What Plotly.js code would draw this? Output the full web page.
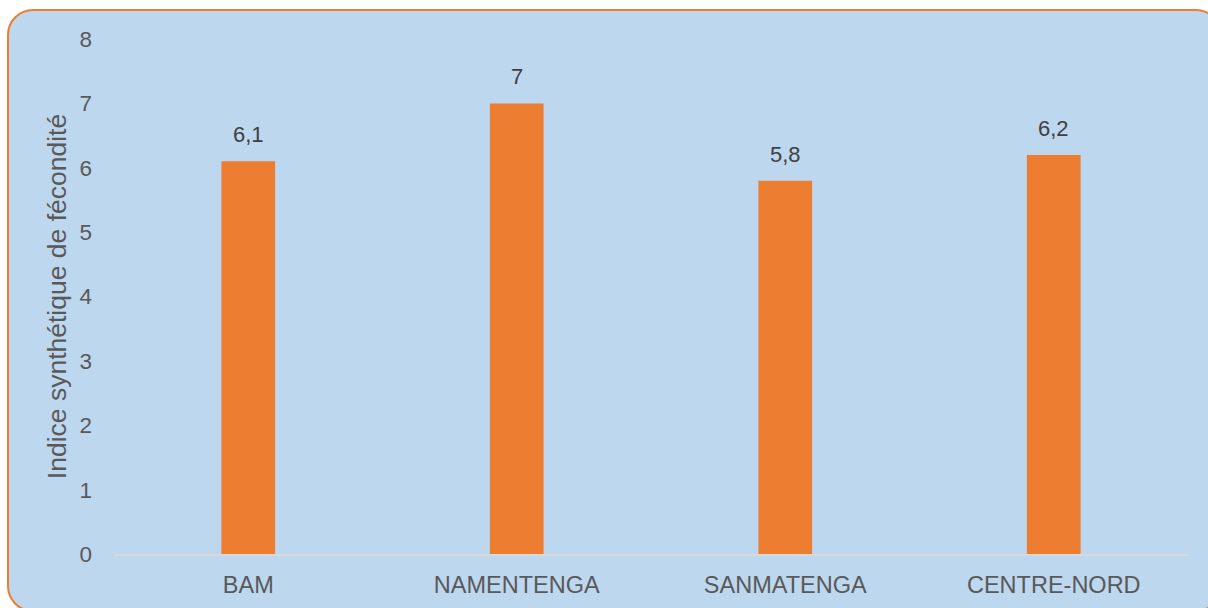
<!DOCTYPE html>
<html>
<head>
<meta charset="utf-8">
<script src="https://cdn.plot.ly/plotly-3.0.1.min.js"></script>
<style>
  html, body { margin: 0; padding: 0; width: 1208px; height: 608px; overflow: hidden; background: #ffffff; }
  #box { position: absolute; left: 7px; top: 9px; width: 1215px; height: 603px; box-sizing: border-box;
         border: 2px solid #ED7D31; border-radius: 26px; background: #BDD7EE; }
  #chart { position: absolute; left: 0; top: 0; width: 1208px; height: 608px; }
</style>
</head>
<body>
<div id="box"></div>
<div id="chart"></div>
<script>
const categories = ['BAM', 'NAMENTENGA', 'SANMATENGA', 'CENTRE-NORD'];
const values = [6.1, 7, 5.8, 6.2];
const yTitle = 'Indice synthétique de fécondité';

const labels = values.map(v => String(v).replace('.', ','));
const FONT = 'Liberation Sans, Arial, sans-serif';

const trace = {
  type: 'bar',
  x: categories,
  y: values,
  marker: { color: '#ED7D31' },
  width: 0.2,
  hoverinfo: 'skip'
};

const annotations = categories.map((c, i) => ({
  x: c,
  y: values[i],
  xref: 'x',
  yref: 'y',
  text: labels[i],
  showarrow: false,
  yanchor: 'bottom',
  yshift: 12,
  font: { family: FONT, size: 22, color: '#404040' }
}));

const layout = {
  width: 1208,
  height: 608,
  margin: { l: 114, r: 20, t: 39, b: 54 },
  paper_bgcolor: 'rgba(0,0,0,0)',
  plot_bgcolor: 'rgba(0,0,0,0)',
  showlegend: false,
  separators: ',.',
  font: { family: FONT, size: 22, color: '#595959' },
  annotations: annotations,
  xaxis: {
    type: 'category',
    showline: true,
    linecolor: '#D9D9D9',
    linewidth: 1.5,
    showgrid: false,
    zeroline: false,
    ticks: '',
    ticklabelstandoff: 9,
    tickfont: { size: 23.5, color: '#595959' }
  },
  yaxis: {
    range: [0, 8],
    dtick: 1,
    showgrid: false,
    zeroline: false,
    showline: false,
    ticks: '',
    ticklabelstandoff: 21,
    tickfont: { size: 22.5, color: '#595959' },
    title: { text: yTitle, font: { size: 26.5, color: '#595959' }, standoff: 5 }
  }
};

Plotly.newPlot('chart', [trace], layout, { displayModeBar: false, staticPlot: true });
</script>
</body>
</html>
